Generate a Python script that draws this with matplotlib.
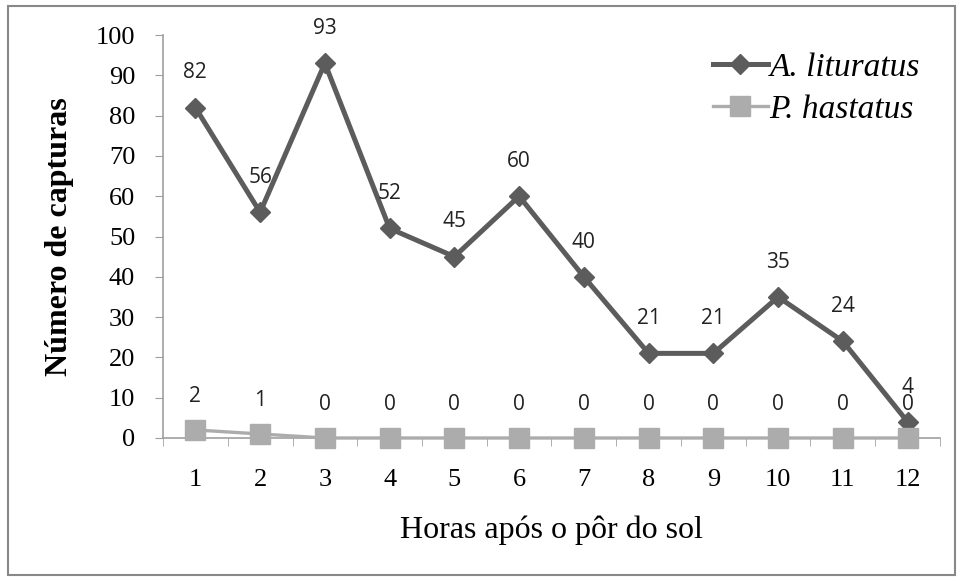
import matplotlib
matplotlib.use("Agg")
import matplotlib.pyplot as plt
from matplotlib.patches import Rectangle

hours = [1, 2, 3, 4, 5, 6, 7, 8, 9, 10, 11, 12]
lituratus = [82, 56, 93, 52, 45, 60, 40, 21, 21, 35, 24, 4]
hastatus = [2, 1, 0, 0, 0, 0, 0, 0, 0, 0, 0, 0]
yticks = [0, 10, 20, 30, 40, 50, 60, 70, 80, 90, 100]

serif = "Liberation Serif"
sans = "Open Sans"

W, H = 962, 581
fig = plt.figure(figsize=(W / 100, H / 100), dpi=100)
fig.patches.append(Rectangle((8 / W, 6 / H), (955 - 8) / W, (575 - 6) / H,
                             transform=fig.transFigure, fill=False,
                             edgecolor="#888888", linewidth=1.5))
ax = fig.add_axes([163 / W, (H - 438) / H, (940 - 163) / W, (438 - 35) / H])

dark = "#5c5c5c"
light = "#acacac"
ax.plot(hours, lituratus, color=dark, lw=3.6, marker="D", markersize=10,
        label="A. lituratus", zorder=3, clip_on=False)
ax.plot(hours, hastatus, color=light, lw=2.4, marker="s", markersize=14,
        label="P. hastatus", zorder=4, clip_on=False)

for x, v in zip(hours, lituratus):
    ax.annotate(str(v), (x, v), xytext=(0, 25), textcoords="offset points",
                ha="center", va="center", fontsize=15, family=sans, color="#222222")
for x, v in zip(hours, hastatus):
    ax.annotate(str(v), (x, v), xytext=(0, 24), textcoords="offset points",
                ha="center", va="center", fontsize=15, family=sans, color="#222222")

ax.set_xlim(0.5, 12.5)
ax.set_ylim(0, 100)
ax.set_yticks(yticks)
ax.set_xticks(hours)
ax.set_xticks([h + 0.5 for h in [0] + hours], minor=True)
ax.tick_params(axis="x", which="major", length=0, pad=22)
ax.tick_params(axis="x", which="minor", length=6, color="#a0a0a0", direction="out")
ax.tick_params(axis="y", length=6, color="#a0a0a0", direction="out", pad=14)
for lab in ax.get_xticklabels() + ax.get_yticklabels():
    lab.set_fontfamily(serif)
    lab.set_fontsize(19)
for s in ["top", "right"]:
    ax.spines[s].set_visible(False)
for s in ["left", "bottom"]:
    ax.spines[s].set_color("#a0a0a0")
    ax.spines[s].set_linewidth(1.2)

ax.set_xlabel("Horas após o pôr do sol", family=serif, fontsize=23, labelpad=18)
ax.set_ylabel("Número de capturas", family=serif, fontsize=23, fontweight="bold", labelpad=16)

leg = fig.legend(loc="upper left", bbox_to_anchor=(713 / W, 1 - 52 / H), frameon=False,
                 prop={"family": serif, "style": "italic", "size": 24},
                 handlelength=1.65, handletextpad=0.05, labelspacing=0.35,
                 borderpad=0, borderaxespad=0)

fig.savefig("out.png", dpi=100)
